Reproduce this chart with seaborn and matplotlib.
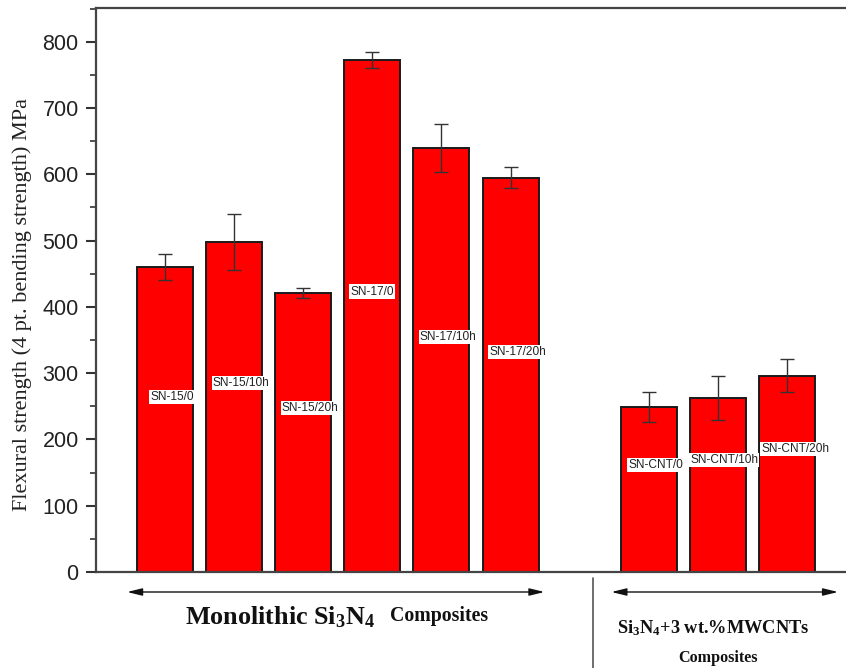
import numpy as np
import pandas as pd
import matplotlib
matplotlib.use("Agg")
import matplotlib.pyplot as plt
import matplotlib.transforms as mtransforms
import seaborn as sns

# ---- data ----
samples = ["SN-15/0", "SN-15/10h", "SN-15/20h", "SN-17/0", "SN-17/10h", "SN-17/20h",
           "SN-CNT/0", "SN-CNT/10h", "SN-CNT/20h"]
strength = [460, 498, 421, 773, 640, 595, 249, 263, 296]
err = [20, 42, 7, 12, 36, 16, 22, 33, 25]
label_y = [264, 285, 247, 423, 355, 332, 161, 169, 186]
label_dx = [0.1, 0.1, 0.1, 0.0, 0.1, 0.1, 0.1, 0.09, 0.12]
yticks = [0, 100, 200, 300, 400, 500, 600, 700, 800]

sns.set_style("white")
plt.rcParams["mathtext.fontset"] = "custom"
plt.rcParams["mathtext.rm"] = "Liberation Serif:bold"
plt.rcParams["mathtext.it"] = "Liberation Serif:bold"
plt.rcParams["mathtext.bf"] = "Liberation Serif:bold"

df = pd.DataFrame({"sample": samples, "strength": strength})
order = samples[:6] + [" "] + samples[6:]

W, H = 846, 668
fig = plt.figure(figsize=(W / 100, H / 100), dpi=100)
ax = fig.add_axes([96 / W, 1 - 572 / H, 760 / W, 564 / H])

sns.barplot(data=df, x="sample", y="strength", order=order, color="#ff0000",
            saturation=1, width=0.81, edgecolor="#1a1a1a", linewidth=1.4,
            errorbar=None, ax=ax)

# error bars at bar centres
centers = []
for p in ax.patches:
    if p.get_height() > 0:
        centers.append(p.get_x() + p.get_width() / 2)
centers = sorted(centers)
ax.errorbar(centers, strength, yerr=err, fmt="none", ecolor="#333333",
            elinewidth=1.0, capsize=5, capthick=1.0, zorder=5)

# in-bar labels
for cx, name, ly, dx in zip(centers, samples, label_y, label_dx):
    ax.text(cx + dx, ly, name, ha="center", va="center", fontsize=8.6,
            family="Liberation Sans", color="#222222", zorder=6,
            bbox=dict(boxstyle="square,pad=0.1", fc="white", ec="none"))

ax.set_xlim(-1.0, 10.0)
ax.set_ylim(0, 851)
ax.set_yticks(yticks)
ax.set_yticklabels([str(t) for t in yticks], family="Liberation Sans", fontsize=15.5, color="#222222")
ax.set_yticks(np.arange(50, 851, 100), minor=True)
ax.tick_params(axis="y", which="major", direction="out", length=7, width=1.5, color="#333333", left=True, pad=5.5)
ax.tick_params(axis="y", which="minor", direction="out", length=4, width=1.2, color="#333333", left=True)
ax.set_xticks([])
ax.set_xlabel("")
ax.set_ylabel("Flexural strength (4 pt. bending strength) MPa", family="Liberation Serif",
              fontsize=16, color="#222222")
ax.yaxis.set_label_coords(-0.084, 0.475)
for s in ["left", "top", "bottom"]:
    ax.spines[s].set_visible(True)
    ax.spines[s].set_linewidth(1.6)
    ax.spines[s].set_color("#444444")
ax.spines["right"].set_visible(False)

# group arrows below axis
trans = mtransforms.blended_transform_factory(ax.transData, ax.transAxes)
ay = -20 / 564
arrow_kw = dict(arrowstyle="<|-|>,head_length=0.9,head_width=0.22", color="#111111", lw=1.0,
                shrinkA=0, shrinkB=0)
ax.annotate("", xy=(-0.55, ay), xytext=(5.49, ay), xycoords=trans, textcoords=trans,
            arrowprops=arrow_kw, annotation_clip=False)
ax.annotate("", xy=(6.46, ay), xytext=(9.74, ay), xycoords=trans, textcoords=trans,
            arrowprops=arrow_kw, annotation_clip=False)
ax.plot([6.2, 6.2], [-6 / 564, -100 / 564], transform=trans, color="#555555", lw=1.2, clip_on=False)

# group titles
fig.text(185 / W, 1 - 624 / H, r"Monolithic Si$_3$N$_4$", family="Liberation Serif",
         fontweight="bold", fontsize=18.8, ha="left", va="baseline", color="#111111")
fig.text(390 / W, 1 - 621 / H, "Composites", family="Liberation Serif",
         fontweight="bold", fontsize=14.3, ha="left", va="baseline", color="#111111")
fig.text(713 / W, 1 - 633 / H, r"Si$_3$N$_4$+3 wt.%MWCNTs", family="Liberation Serif",
         fontweight="bold", fontsize=13.2, ha="center", va="baseline", color="#111111")
fig.text(718 / W, 1 - 662 / H, "Composites", family="Liberation Serif",
         fontweight="bold", fontsize=11.6, ha="center", va="baseline", color="#111111")

fig.savefig("out.png", dpi=100)
